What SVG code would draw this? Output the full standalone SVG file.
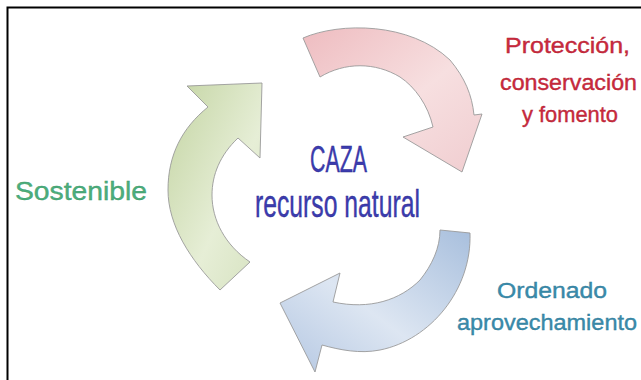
<svg xmlns="http://www.w3.org/2000/svg" width="641" height="380" viewBox="0 0 641 380">
<style>
.arrow{stroke:#9a9a9a;stroke-width:0.9;stroke-linejoin:miter}
.lbl{font-family:"Liberation Sans","Open Sans",sans-serif;stroke-width:0.35}
.center{font-family:"Liberation Sans","Open Sans",sans-serif;fill:#3c3cae;stroke:#2a2a90;stroke-width:0.4}
</style>
<defs>
<linearGradient id="gPink" x1="0" y1="0" x2="1" y2="1">
<stop offset="0" stop-color="#eebcc0"/>
<stop offset="0.55" stop-color="#f7dfe0"/>
<stop offset="1" stop-color="#f0cdd0"/>
</linearGradient>
<linearGradient id="gGreen" x1="0" y1="0" x2="1" y2="1">
<stop offset="0" stop-color="#c3d4a2"/>
<stop offset="0.6" stop-color="#e6eed6"/>
<stop offset="1" stop-color="#d6e2c0"/>
</linearGradient>
<linearGradient id="gBlue" x1="1" y1="0" x2="0" y2="1">
<stop offset="0" stop-color="#a8bfdd"/>
<stop offset="0.55" stop-color="#dde6f2"/>
<stop offset="1" stop-color="#b4c7e2"/>
</linearGradient>
</defs>
<rect width="641" height="380" fill="#ffffff"/>
<path d="M7.5,380 V7.5 H641" fill="none" stroke="#000" stroke-width="2"/>
<g id="connectors">
<path id="arrow-pink" class="arrow" fill="url(#gPink)" d="M303,38 C340,22 410,22 450,60 C465,78 472,95 474,115 L482,114 L462,172 L403,137 L433,127 C428,105 415,87 400,77 C375,62 345,62 320,77 Z"/>
<path id="arrow-green" class="arrow" fill="url(#gGreen)" d="M220,290 C190,260 168,225 168,190 C168,155 182,128 208,107 L187,86 L262,83 L260,158 L238,138 C220,155 212,175 212,195 C212,220 225,245 250,262 Z"/>
<path id="arrow-blue" class="arrow" fill="url(#gBlue)" d="M470,233 C472,290 430,340 380,350 C360,354 340,350 322,345 L315,372 L280,303 L340,273 L333,302 C370,310 400,300 420,280 C432,265 440,248 440,230 Z"/>
</g>
<g id="node-caza">
<text class="center" x="338.5" y="172" font-size="37" text-anchor="middle" textLength="57" lengthAdjust="spacingAndGlyphs">CAZA</text>
<text class="center" x="337.5" y="217" font-size="39" text-anchor="middle" textLength="165" lengthAdjust="spacingAndGlyphs">recurso natural</text>
</g>
<g id="node-proteccion" class="lbl" fill="#cc2a3e" stroke="#b01e30" font-size="21.5" text-anchor="middle">
<text x="567.5" y="53" textLength="125" lengthAdjust="spacingAndGlyphs">Protección,</text>
<text x="568.5" y="90" textLength="137" lengthAdjust="spacingAndGlyphs">conservación</text>
<text x="570" y="122" textLength="96" lengthAdjust="spacingAndGlyphs">y fomento</text>
</g>
<g id="node-sostenible" class="lbl" fill="#4cae7c" stroke="#3a9868" font-size="25">
<text x="15" y="200" textLength="132" lengthAdjust="spacingAndGlyphs">Sostenible</text>
</g>
<g id="node-ordenado" class="lbl" fill="#3a8cac" stroke="#2c7896" font-size="22.5" text-anchor="middle">
<text x="552" y="298" textLength="110" lengthAdjust="spacingAndGlyphs">Ordenado</text>
<text x="547" y="330" textLength="180" lengthAdjust="spacingAndGlyphs">aprovechamiento</text>
</g>
</svg>
